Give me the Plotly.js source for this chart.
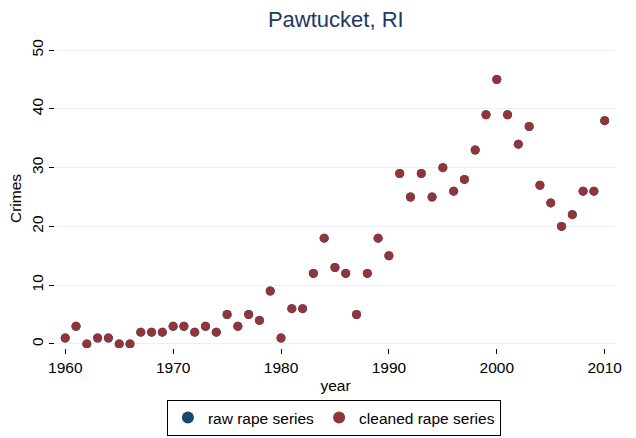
<!DOCTYPE html>
<html><head><meta charset="utf-8">
<script src="https://cdn.plot.ly/plotly-3.0.1.min.js"></script>
<style>body{margin:0;padding:0;}#chart{width:636px;height:438px;}</style>
</head><body><div id="chart"></div>
<script>
const years = [1960,1961,1962,1963,1964,1965,1966,1967,1968,1969,1970,1971,1972,1973,1974,1975,1976,1977,1978,1979,1980,1981,1982,1983,1984,1985,1986,1987,1988,1989,1990,1991,1992,1993,1994,1995,1996,1997,1998,1999,2000,2001,2002,2003,2004,2005,2006,2007,2008,2009,2010];
const rawRape = [1,3,0,1,1,0,0,2,2,2,3,3,2,3,2,5,3,5,4,9,1,6,6,12,18,13,12,5,12,18,15,29,25,29,25,30,26,28,33,39,45,39,34,37,27,24,20,22,26,26,38];
const cleanedRape = [1,3,0,1,1,0,0,2,2,2,3,3,2,3,2,5,3,5,4,9,1,6,6,12,18,13,12,5,12,18,15,29,25,29,25,30,26,28,33,39,45,39,34,37,27,24,20,22,26,26,38];
const xTicks = [1960,1970,1980,1990,2000,2010];
const yTicks = [0,10,20,30,40,50];

const font = {family: 'Liberation Sans, Arial, sans-serif', size: 15.5, color: '#000'};
const traces = [
  {x: years, y: rawRape, type: 'scatter', mode: 'markers', name: 'raw rape series',
   marker: {color: '#1a476f', size: 9}},
  {x: years, y: cleanedRape, type: 'scatter', mode: 'markers', name: 'cleaned rape series',
   marker: {color: '#90353b', size: 9}}
];
const layout = {
  width: 636, height: 438,
  margin: {l: 55, r: 20, t: 49, b: 90, autoexpand: false},
  paper_bgcolor: '#fff', plot_bgcolor: '#fff',
  font: font,
  showlegend: true,
  title: {text: 'Pawtucket, RI', font: {family: font.family, size: 22, color: '#1e3864'}, x: 0.528, xanchor: 'center', y: 0.955, yanchor: 'middle'},
  xaxis: {range: [1959.05, 2011.05], tickvals: xTicks, ticks: 'outside', ticklen: 5, tickcolor: '#000',
          showgrid: false, zeroline: false, showline: false, tickfont: font, automargin: false,
          title: {text: 'year', font: font, standoff: 5}},
  yaxis: {range: [-0.7, 50.2], tickvals: yTicks, ticks: 'outside', ticklen: 5, tickcolor: '#000',
          tickangle: -90, showgrid: true, gridcolor: '#eaf2f3', gridwidth: 1, zeroline: false, showline: false,
          tickfont: font, automargin: false, title: {text: 'Crimes', font: font, standoff: 3}},
  legend: {orientation: 'h', xref: 'container', yref: 'container', x: 0.525, xanchor: 'center', y: 0.087, yanchor: 'top',
           bordercolor: '#000', borderwidth: 1, font: {family: font.family, size: 15.5, color: '#000'}, itemsizing: 'constant'}
};
Plotly.newPlot('chart', traces, layout, {displayModeBar: false});
</script></body></html>
